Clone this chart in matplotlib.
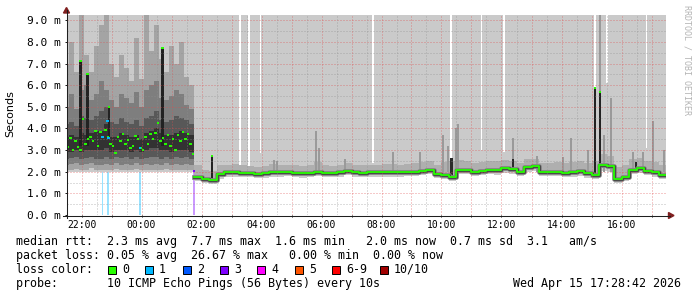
import numpy as np
import matplotlib
matplotlib.use("Agg")
import matplotlib.pyplot as plt
from matplotlib.lines import Line2D
from matplotlib.patches import Polygon, Rectangle

# ------------------------------------------------------------------ data
# clock times HH:MM ; values in milliseconds (axis shows "m" = milli-seconds)

# left part: sorted-ping smoke quantiles, 10-minute steps starting 21:25
L_START, L_STEP = "21:25", 10
L_P1 = [2.0, 2.0, 2.0, 2.0, 2.0, 2.0, 1.98, 1.98, 2.0, 2.0,
        2.0, 2.0, 2.0, 2.0, 2.0, 2.0, 2.0, 2.0, 1.98, 2.0,
        2.0, 2.0, 2.0, 2.0, 2.0, 2.0]
L_P2 = [2.1, 2.1, 2.12, 2.1, 2.1, 2.15, 2.1, 2.1, 2.1, 2.1,
        2.12, 2.1, 2.1, 2.1, 2.12, 2.1, 2.1, 2.1, 2.1, 2.1,
        2.12, 2.1, 2.1, 2.1, 2.1, 2.1]
L_P3 = [2.3, 2.35, 2.4, 2.3, 2.35, 2.4, 2.3, 2.3, 2.35, 2.3,
        2.4, 2.3, 2.35, 2.3, 2.4, 2.3, 2.35, 2.3, 2.35, 2.3,
        2.4, 2.3, 2.35, 2.3, 2.35, 2.3]
L_P4 = [2.6, 2.65, 2.7, 2.6, 2.65, 2.7, 2.6, 2.6, 2.7, 2.6,
        2.7, 2.65, 2.7, 2.6, 2.7, 2.6, 2.65, 2.7, 2.7, 2.6,
        2.7, 2.6, 2.7, 2.65, 2.7, 2.6]
L_P5 = [2.9, 2.9, 3.0, 2.9, 3.0, 3.0, 3.0, 3.0, 3.1, 2.9,
        3.0, 3.0, 3.0, 2.9, 3.0, 2.9, 3.0, 3.1, 3.1, 3.0,
        3.0, 2.9, 3.0, 3.0, 3.0, 2.9]
L_P6 = [3.6, 3.7, 3.6, 3.8, 3.7, 3.8, 3.9, 3.9, 4.2, 3.6,
        3.6, 3.8, 3.7, 3.6, 3.7, 3.5, 3.8, 3.9, 4.0, 3.8,
        3.7, 3.7, 3.8, 3.9, 3.8, 3.7]
L_P7 = [4.2, 4.3, 4.1, 4.6, 4.5, 4.4, 4.6, 4.8, 5.0, 4.3,
        4.2, 4.5, 4.3, 4.2, 4.4, 4.1, 4.5, 4.6, 4.8, 4.4,
        4.3, 4.4, 4.6, 4.5, 4.4, 4.2]
L_P8 = [5.0, 5.6, 4.9, 5.8, 6.0, 5.3, 5.6, 6.2, 5.8, 5.3,
        5.0, 5.6, 5.4, 5.2, 5.7, 5.0, 5.8, 6.0, 6.2, 5.4,
        5.3, 5.5, 5.8, 5.6, 5.1, 4.9]
L_P9 = [7.0, 8.0, 6.6, 9.3, 7.4, 6.6, 7.8, 8.8, 9.3, 7.0,
        6.4, 7.4, 6.8, 6.2, 8.2, 6.3, 9.3, 7.6, 8.8, 7.2,
        6.6, 7.8, 7.0, 8.0, 6.4, 6.0]

# left median, 5-minute steps starting 21:25
LM_START, LM_STEP = "21:25", 5
L_MED = [3.30, 3.15, 3.55, 3.00, 3.40, 3.15, 3.00, 4.45, 3.30, 3.50,
         3.60, 3.40, 3.90, 3.20, 3.85, 3.60, 3.95, 3.60, 3.30, 3.20,
         2.85, 3.60, 3.40, 3.75, 3.30, 3.45, 3.10, 3.20, 3.65, 3.50,
         3.10, 3.00, 3.60, 3.30, 3.75, 3.50, 3.80, 4.25, 3.40, 3.55,
         3.30, 3.70, 3.20, 3.50, 3.00, 3.70, 3.40, 3.85, 3.50, 3.75,
         3.30, 2.80]

# right part: 15-minute steps starting 01:45
R_START, R_STEP = "01:45", 15
R_MED = [1.78, 1.68, 1.62, 1.88, 1.97, 1.98, 1.95, 1.94, 1.90, 1.92,
         2.00, 1.98, 2.00, 1.96, 1.93, 1.95, 2.00, 1.95, 1.95, 1.97,
         2.05, 1.98, 1.96, 1.97, 1.98, 1.97, 1.98, 1.98, 2.00, 2.00,
         2.05, 2.10, 1.90, 1.87, 1.75, 2.10, 2.10, 2.00, 2.05, 2.10,
         2.08, 2.15, 2.12, 2.00, 2.20, 2.25, 2.00, 2.00, 2.00, 1.95,
         1.97, 2.03, 1.93, 1.87, 2.30, 2.25, 1.66, 1.75, 2.10, 2.15,
         2.05, 1.98, 1.85]
R_P1 = [1.58, 1.50, 1.45, 1.66, 1.76, 1.77, 1.75, 1.74, 1.70, 1.72,
        1.78, 1.77, 1.79, 1.76, 1.73, 1.75, 1.79, 1.75, 1.75, 1.77,
        1.83, 1.78, 1.76, 1.77, 1.78, 1.77, 1.78, 1.78, 1.80, 1.80,
        1.84, 1.88, 1.70, 1.66, 1.55, 1.88, 1.90, 1.80, 1.84, 1.88,
        1.87, 1.93, 1.90, 1.80, 1.98, 2.02, 1.80, 1.80, 1.80, 1.75,
        1.77, 1.82, 1.72, 1.66, 2.05, 2.00, 1.50, 1.56, 1.88, 1.94,
        1.84, 1.78, 1.65]
R_P2 = [1.68, 1.58, 1.53, 1.77, 1.87, 1.88, 1.85, 1.84, 1.80, 1.82,
        1.90, 1.88, 1.90, 1.86, 1.83, 1.85, 1.90, 1.85, 1.85, 1.87,
        1.94, 1.88, 1.86, 1.87, 1.88, 1.87, 1.88, 1.88, 1.90, 1.90,
        1.94, 1.99, 1.80, 1.76, 1.64, 1.99, 2.00, 1.90, 1.94, 1.99,
        1.97, 2.04, 2.01, 1.90, 2.09, 2.14, 1.90, 1.90, 1.90, 1.85,
        1.87, 1.92, 1.83, 1.77, 2.18, 2.14, 1.56, 1.65, 1.99, 2.04,
        1.94, 1.88, 1.75]
R_P9 = [2.30, 2.10, 2.05, 2.30, 2.30, 2.35, 2.30, 2.25, 2.20, 2.25,
        2.35, 2.30, 2.30, 2.30, 2.25, 2.30, 2.45, 2.30, 2.25, 2.30,
        2.40, 2.30, 2.30, 2.30, 2.30, 2.35, 2.35, 2.30, 2.35, 2.40,
        2.45, 2.50, 2.30, 2.45, 2.50, 2.55, 2.50, 2.40, 2.45, 2.50,
        2.50, 2.55, 2.50, 2.40, 2.60, 2.60, 2.40, 2.40, 2.45, 2.40,
        2.45, 2.50, 2.40, 2.50, 2.80, 2.75, 2.20, 2.30, 2.60, 2.65,
        2.50, 2.45, 2.30]

# narrow outliers of the right part (single sample high pings)
SPIKE_T = ["04:25", "04:31", "05:49", "05:55", "06:47", "08:23", "09:17",
           "10:03", "10:13", "10:29", "10:33", "12:23", "13:11", "14:03",
           "14:19", "14:53", "15:17", "15:25", "15:39", "16:23", "16:43",
           "17:03", "17:25"]
SPIKE_TOP = [2.55, 2.5, 3.9, 3.1, 2.6, 2.9, 2.9,
             3.7, 3.2, 4.0, 4.2, 3.55, 2.75, 2.7,
             3.55, 3.0, 9.3, 3.7, 5.4, 2.9, 2.9,
             4.35, 3.0]
# samples whose maximum ping stayed below the top of the chart
GAP_T = ["03:17", "03:35", "03:58", "07:43", "10:19", "11:20", "12:05",
         "15:07", "15:31", "16:50"]
GAP_MAX = [2.3, 2.23, 2.87, 2.4, 2.5, 3.0, 2.9, 5.93, 6.1, 3.1]
# median spikes (dark column from lo up to the median hi)
MS_T = ["21:58", "22:12", "22:55", "00:42", "02:21", "15:07", "15:17"]
MS_LO = [3.2, 3.2, 3.6, 3.2, 1.65, 1.9, 2.0]
MS_HI = [7.1, 6.5, 5.0, 7.7, 2.75, 5.87, 5.7]
# dark smoke bursts without a median spike
DS_T = ["10:20", "12:23", "16:29"]
DS_LO = [1.75, 2.1, 2.1]
DS_HI = [2.65, 2.6, 2.45]
# steps with packet loss: time, median, lost pings
LOSS_T = ["22:42", "22:52", "22:54", "23:57", "01:45"]
LOSS_MED = [3.6, 4.33, 3.58, 3.1, 2.05]
LOSS_LVL = [1, 1, 1, 1, 3]

LOSS_LABELS = ["0", "1", "2", "3", "4", "5", "6-9", "10/10"]
LOSS_COLORS = ["#26ff00", "#00b8ff", "#0059ff", "#7e00ff", "#ff00ff",
               "#ff5500", "#ff0000", "#a10000"]

Y_TICKS = [0, 1, 2, 3, 4, 5, 6, 7, 8, 9]
X_HOURS = list(range(-2, 18))

# ------------------------------------------------------------------ layout
W, H = 697, 297
fig = plt.figure(figsize=(W / 100, H / 100), dpi=100)
fig.patch.set_facecolor("white")
PX_L, PX_R, PX_B, PX_T = 67, 666, 215, 14.5
ZERO_PX, HOUR_PX = 141.5, 30.0
ax = fig.add_axes([PX_L / W, 1 - PX_B / H, (PX_R - PX_L) / W, (PX_B - PX_T) / H])
ax.set_xlim((PX_L - ZERO_PX) / HOUR_PX, (PX_R - ZERO_PX) / HOUR_PX)
ax.set_ylim(0, 9.27)
for s in ax.spines.values():
    s.set_visible(False)
ax.set_facecolor("white")
PX_H = 1.0 / HOUR_PX
TOP = 9.27 + 1.0
MONO = "DejaVu Sans Mono"
SHADES = ["#cacaca", "#a4a4a4", "#7e7e7e", "#585858", "#323232"]
GREEN = LOSS_COLORS[0]


def hrs(s):
    h, m = map(int, s.split(":"))
    v = h + m / 60.0
    return v - 24 if v >= 20 else v


def edges(start, step, n):
    return hrs(start) + np.arange(n + 1) * step / 60.0


def sfill(x, lo, hi, color, z):
    lo = np.asarray(lo, float)
    hi = np.asarray(hi, float)
    ax.fill_between(x, np.r_[lo, lo[-1]], np.r_[hi, hi[-1]], step="post",
                    color=color, lw=0, zorder=z, antialiased=False)


def loss_color(n):
    return LOSS_COLORS[n if n <= 5 else (6 if n < 10 else 7)]


xl = edges(L_START, L_STEP, len(L_P1))
xr = edges(R_START, R_STEP, len(R_MED))
xm = edges(LM_START, LM_STEP, len(L_MED))
topl = np.full(len(L_P1), TOP)
topr = np.full(len(R_MED), TOP)

# loss bars (visible below the smoke)
for t, lv in zip(LOSS_T, LOSS_LVL):
    ax.bar(hrs(t), TOP, bottom=0, width=1.2 * PX_H, color=loss_color(lv),
           alpha=0.4, lw=0, zorder=0.5)

# smoke
sfill(xl, L_P1, topl, SHADES[0], 1)
sfill(xr, R_P1, topr, SHADES[0], 1)
for t, v in zip(GAP_T, GAP_MAX):
    ax.bar(hrs(t), TOP - v, bottom=v, width=1.2 * PX_H, color="white", lw=0, zorder=1.5)
sfill(xl, L_P2, L_P9, SHADES[1], 2)
sfill(xr, R_P2, R_P9, "#afafaf", 2)
for t, v in zip(SPIKE_T, SPIKE_TOP):
    ax.bar(hrs(t), v - 2.0, bottom=2.0, width=1.3 * PX_H, color="#9a9a9a", lw=0, zorder=2.2)
sfill(xl, L_P3, L_P8, SHADES[2], 3)
sfill(xl, L_P4, L_P7, SHADES[3], 4)
sfill(xl, L_P5, L_P6, SHADES[4], 5)
for t, lo, hi in zip(DS_T, DS_LO, DS_HI):
    ax.bar(hrs(t), hi - lo, bottom=lo, width=2.2 * PX_H, color="#2a2a2a", lw=0, zorder=5.5)
for t, lo, hi in zip(MS_T, MS_LO, MS_HI):
    ax.bar(hrs(t), hi - lo, bottom=lo, width=2.2 * PX_H, color="#222222", lw=0, zorder=5.5)

# right part: dark halo around the median
ymr = np.r_[R_MED, R_MED[-1]]
ax.plot(xr, ymr, drawstyle="steps-post", color="#8a8a8a", lw=3.4, zorder=6)
ax.plot(xr, ymr, drawstyle="steps-post", color="#4a4a4a", lw=2.3, zorder=6.2)

# grid (drawn over the smoke, like rrdtool)
MAJ = (0.87, 0.31, 0.31, 0.6)
MIN = (0.56, 0.56, 0.56, 0.6)
for v in np.arange(0.5, 9.01, 0.5):
    major = abs(v - round(v)) < 1e-6
    ax.axhline(v, color=MAJ if major else MIN, lw=0.72, ls=(0, (1, 2)), zorder=7)
for h in np.arange(-3, 18.01, 0.5):
    if ax.get_xlim()[0] < h < ax.get_xlim()[1]:
        major = abs(h - round(h)) < 1e-6
        ax.axvline(h, color=MAJ if major else MIN, lw=0.72, ls=(0, (1, 2)), zorder=7)

# medians
ax.hlines(L_MED, xm[:-1], xm[1:], colors=GREEN, lw=1.4, zorder=8)
ax.plot(xr, ymr, drawstyle="steps-post", color=GREEN, lw=1.3, zorder=8)
for t, hi in zip(MS_T, MS_HI):
    ax.hlines(hi, hrs(t) - 1.3 * PX_H, hrs(t) + 1.3 * PX_H, colors=GREEN, lw=1.4, zorder=8.5)
for t, v, lv in zip(LOSS_T, LOSS_MED, LOSS_LVL):
    ax.hlines(v, hrs(t) - 1.2 * PX_H, hrs(t) + 1.2 * PX_H, colors=loss_color(lv), lw=1.4, zorder=8.6)

# ticks
ax.set_yticks(Y_TICKS)
ax.set_yticklabels(["%.1f m" % v for v in Y_TICKS], family=MONO, fontsize=8)
ax.set_xticks(X_HOURS)
ax.set_xticklabels(["%02d:00" % (h % 24) if h % 2 == 0 else "" for h in X_HOURS],
                   family=MONO, fontsize=7)
ax.tick_params(axis="y", length=1.44, width=0.72, pad=2.9, color="#1f1f1f")
ax.tick_params(axis="x", length=1.44, width=0.72, pad=2.4, color="#1f1f1f")


# axis lines and arrows in figure pixels
def fx(p):
    return p / W


def fy(p):
    return 1 - p / H


AX_C, ARR_C = "#1f1f1f", "#801f1f"
fig.add_artist(Line2D([fx(66.5), fx(66.5)], [fy(218), fy(10)], color=AX_C, lw=0.75))
fig.add_artist(Line2D([fx(63), fx(670)], [fy(215.5), fy(215.5)], color=AX_C, lw=0.75))
fig.add_artist(Polygon([[fx(63.5), fy(13)], [fx(69.5), fy(13)], [fx(66.5), fy(7.5)]],
                       closed=True, color=ARR_C, transform=fig.transFigure))
fig.add_artist(Polygon([[fx(668.5), fy(212.5)], [fx(668.5), fy(218.5)], [fx(674), fy(215.5)]],
                       closed=True, color=ARR_C, transform=fig.transFigure))

# texts
fig.text(fx(10.5), fy(113.5), "Seconds", rotation=90, fontsize=8, family="DejaVu Sans",
         ha="center", va="center")
fig.text(fx(687.5), fy(60), "RRDTOOL / TOBI OETIKER", rotation=270, fontsize=6,
         family=MONO, color="#b4b4b4", ha="center", va="center")

LEG_X = 16
LSZ = 8.37
rows = [245, 259, 273, 287]
fig.text(fx(LEG_X), fy(rows[0]),
         "median rtt:  2.3 ms avg  7.7 ms max  1.6 ms min   2.0 ms now  0.7 ms sd  3.1   am/s",
         family=MONO, fontsize=LSZ, va="baseline")
fig.text(fx(LEG_X), fy(rows[1]),
         "packet loss: 0.05 % avg  26.67 % max   0.00 % min  0.00 % now",
         family=MONO, fontsize=LSZ, va="baseline")
fig.text(fx(LEG_X), fy(rows[2]), "loss color:", family=MONO, fontsize=LSZ, va="baseline")
SQ_X = [108, 145, 183, 220, 257, 295, 332, 380]
for sx, lab, col in zip(SQ_X, LOSS_LABELS, LOSS_COLORS):
    fig.add_artist(Rectangle((fx(sx), fy(274)), 8 / W, 8 / H, transform=fig.transFigure,
                             facecolor=col, edgecolor="black", lw=0.7))
    fig.text(fx(sx + 14), fy(rows[2]), lab, family=MONO, fontsize=LSZ, va="baseline")
fig.text(fx(LEG_X), fy(rows[3]), "probe:       10 ICMP Echo Pings (56 Bytes) every 10s",
         family=MONO, fontsize=LSZ, va="baseline")
fig.text(fx(681), fy(rows[3]), "Wed Apr 15 17:28:42 2026", family=MONO, fontsize=LSZ,
         va="baseline", ha="right")

fig.savefig("out.png", dpi=100, facecolor="white")
